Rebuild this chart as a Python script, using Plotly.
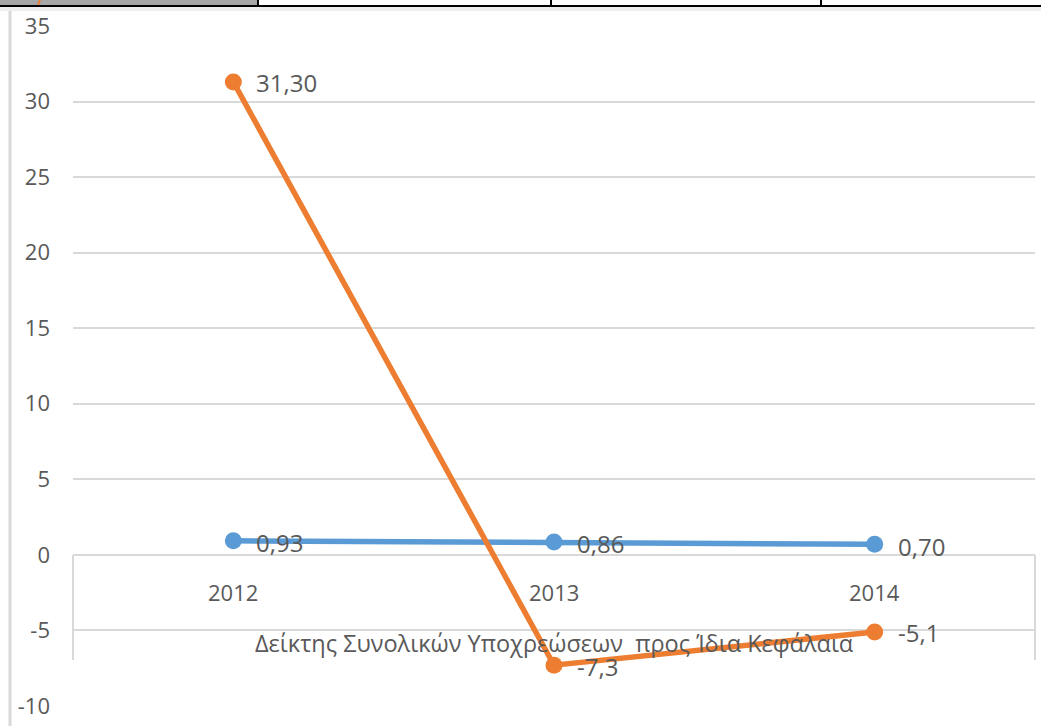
import plotly.graph_objects as go

categories = ["2012", "2013", "2014"]
series_blue = [0.93, 0.86, 0.70]
series_orange = [31.30, -7.3, -5.1]
labels_blue = ["0,93", "0,86", "0,70"]
labels_orange = ["31,30", "-7,3", "-5,1"]
y_tickvals = [-10, -5, 0, 5, 10, 15, 20, 25, 30, 35]
y_ticktext = ["-10", "-5", "0", "5", "10", "15", "20", "25", "30", "35"]
axis_title = "Δείκτης Συνολικών Υποχρεώσεων  προς Ίδια Κεφάλαια"

W, H = 1041, 726
L, R, T, B = 73, 6, 26, 20
pw, ph = W - L - R, H - T - B

def px(x):
    return (x - L) / pw

def py(y):
    return (H - B - y) / ph

FONT = "Open Sans"
TXT = "#595959"
BLUE = "#5B9BD5"
ORANGE = "#ED7D31"
GRID = "#D9D9D9"

xs = list(range(len(categories)))

fig = go.Figure()
fig.add_trace(go.Scatter(x=xs, y=series_blue, mode="lines+markers",
                         line=dict(color=BLUE, width=5.5),
                         marker=dict(color=BLUE, size=17), showlegend=False,
                         hoverinfo="skip"))
fig.add_trace(go.Scatter(x=xs, y=series_orange, mode="lines+markers",
                         line=dict(color=ORANGE, width=5.5),
                         marker=dict(color=ORANGE, size=17), showlegend=False,
                         hoverinfo="skip"))

ann = []
for x, y, t in zip(xs, series_blue, labels_blue):
    ann.append(dict(x=x, y=y, text=t, xanchor="left", yanchor="middle",
                    xshift=21, yshift=-2, showarrow=False,
                    font=dict(family=FONT, size=24, color=TXT)))
for x, y, t in zip(xs, series_orange, labels_orange):
    ann.append(dict(x=x, y=y, text=t, xanchor="left", yanchor="middle",
                    xshift=21, yshift=-1, showarrow=False,
                    font=dict(family=FONT, size=24, color=TXT)))
# category labels inside the plot below the zero line
for x, t in zip(xs, categories):
    ann.append(dict(x=x, y=-2.45, text=t, xanchor="center", yanchor="middle",
                    showarrow=False, font=dict(family=FONT, size=22, color=TXT)))
ann.append(dict(x=1, y=-5.8, text=axis_title, xanchor="center", yanchor="middle",
                showarrow=False, font=dict(family=FONT, size=23.5, color=TXT)))

shapes = []
# category box lines
for xp in [px(73), px(1035)]:
    shapes.append(dict(type="line", xref="paper", yref="y", x0=xp, x1=xp,
                       y0=0, y1=-6.95, line=dict(color=GRID, width=2)))
# left sheet border line
shapes.append(dict(type="line", xref="paper", yref="paper", x0=px(10), x1=px(10),
                   y0=py(9), y1=py(726), line=dict(color=GRID, width=3)))
# top table strip
shapes.append(dict(type="rect", xref="paper", yref="paper", x0=px(0), x1=px(258),
                   y0=py(6), y1=py(0), fillcolor="#A6A6A6", line=dict(width=0)))
shapes.append(dict(type="rect", xref="paper", yref="paper", x0=px(0), x1=px(1041),
                   y0=py(11), y1=py(7), fillcolor="#EEEEEE", line=dict(width=0)))
shapes.append(dict(type="line", xref="paper", yref="paper", x0=px(0), x1=px(1041),
                   y0=py(6), y1=py(6), line=dict(color="black", width=2)))
for xv in [258, 551, 821]:
    shapes.append(dict(type="line", xref="paper", yref="paper", x0=px(xv), x1=px(xv),
                       y0=py(0), y1=py(6), line=dict(color="black", width=2)))
shapes.append(dict(type="line", xref="paper", yref="paper", x0=px(40), x1=px(38),
                   y0=py(0), y1=py(5), line=dict(color=ORANGE, width=2)))

fig.update_layout(
    width=W, height=H, margin=dict(l=L, r=R, t=T, b=B),
    paper_bgcolor="white", plot_bgcolor="white",
    annotations=ann, shapes=shapes,
    xaxis=dict(range=[-0.5, 2.5], showgrid=False, zeroline=False,
               showticklabels=False, showline=False, fixedrange=True),
    yaxis=dict(range=[-10, 35], tickmode="array", tickvals=y_tickvals,
               ticktext=y_ticktext, showgrid=True,
               gridcolor=GRID, gridwidth=1.5, zeroline=True, zerolinecolor=GRID,
               zerolinewidth=2, showline=False, ticks="", ticklabelstandoff=22,
               tickfont=dict(family=FONT, size=22, color=TXT)),
    font=dict(family=FONT, color=TXT),
)

fig.write_html("out.html")
